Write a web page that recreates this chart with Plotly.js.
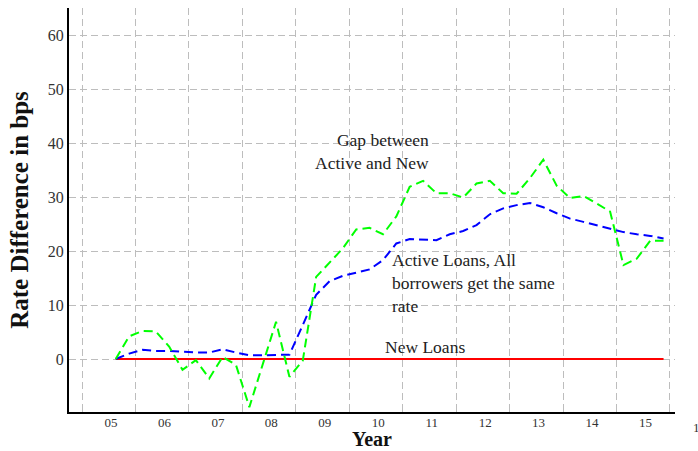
<!DOCTYPE html>
<html>
<head>
<meta charset="utf-8">
<script src="https://cdn.plot.ly/plotly-3.0.1.min.js"></script>
<style>html,body{margin:0;padding:0;background:#fff;}#chart{width:698px;height:451px;}</style>
</head>
<body>
<div id="chart"></div>
<script>
// Quarterly observations, 2005Q1 .. 2015Q2
const startYear = 2005;
const nQuarters = 42;
const quarters = Array.from({length: nQuarters}, (_, i) => startYear + i * 0.25);

const gapActiveNew = [
  0.0, 4.2, 5.2, 5.1, 2.3, -2.0, -0.2, -3.6, 0.4, -1.1,
  -8.9, -1.0, 6.9, -3.3, -0.3, 15.2, 17.9, 20.5, 24.0, 24.3,
  23.1, 26.4, 31.9, 33.0, 30.7, 30.7, 29.9, 32.5, 33.0, 30.7,
  30.6, 33.5, 36.9, 32.1, 29.8, 30.2, 28.8, 27.3, 17.4, 18.6,
  21.9, 21.9
];
const activeLoans = [
  0.0, 1.0, 1.7, 1.5, 1.5, 1.3, 1.2, 1.2, 1.8, 1.2,
  0.7, 0.7, 0.75, 0.8, 6.3, 11.9, 14.4, 15.4, 16.0, 16.6,
  18.3, 21.4, 22.2, 22.1, 22.0, 23.1, 23.7, 24.8, 26.8, 27.9,
  28.5, 28.9, 28.1, 27.0, 26.0, 25.4, 24.8, 24.1, 23.5, 23.1,
  22.8, 22.3
];
const newLoans = Array.from({length: nQuarters}, () => 0);

const yearLabels = ['05','06','07','08','09','10','11','12','13','14','15'];
const clippedLabel = '16';
const yTicks = [0, 10, 20, 30, 40, 50, 60];
const xTitle = 'Year';
const yTitle = 'Rate Difference in bps';

const serif = 'Liberation Serif, Times New Roman, serif';
const labelPos = yearLabels.map((_, k) => 2004.912 + k);
const gridPos = Array.from({length: 12}, (_, k) => 2004.37 + k);

const traces = [
  {x: quarters, y: newLoans, mode: 'lines', line: {color: '#ff0000', width: 2}, hoverinfo: 'skip'},
  {x: quarters, y: activeLoans, mode: 'lines', line: {color: '#0000ff', width: 2, dash: '9px,5px'}, hoverinfo: 'skip'},
  {x: quarters, y: gapActiveNew, mode: 'lines', line: {color: '#00ff00', width: 2, dash: '9px,5px'}, hoverinfo: 'skip'}
];

const annFont = {family: serif, size: 17.5, color: '#222'};

const layout = {
  width: 698, height: 451,
  margin: {l: 69, r: 23, t: 8, b: 39},
  paper_bgcolor: '#fff', plot_bgcolor: '#fff',
  showlegend: false,
  font: {family: serif, color: '#222'},
  xaxis: {
    range: [2004.126, 2015.464],
    tickmode: 'array', tickvals: labelPos, ticktext: yearLabels,
    showgrid: false, zeroline: false, ticks: '',
    ticklabelstandoff: -3,
    tickfont: {family: serif, size: 13, color: '#333'},
    showline: true, linecolor: '#000', linewidth: 2,
    minor: {tickmode: 'array', tickvals: gridPos, showgrid: true, gridcolor: '#bdbdbd', griddash: '7px,4px', gridwidth: 1, ticks: 'inside', ticklen: 4, tickcolor: '#bdbdbd'}
  },
  yaxis: {
    range: [-9.81, 65.0],
    tickmode: 'array', tickvals: yTicks, ticktext: yTicks.map(String),
    showgrid: true, gridcolor: '#bdbdbd', griddash: '7px,4px', gridwidth: 1,
    zeroline: false, ticks: '',
    tickfont: {family: serif, size: 16, color: '#333'},
    showline: true, linecolor: '#000', linewidth: 2,
    title: {text: '<b>' + yTitle + '</b>', font: {family: serif, size: 25, color: '#111'}, standoff: 12}
  },
  annotations: [
    {xref: 'paper', yref: 'paper', x: (372 - 69) / 606, y: (412 - 439) / 404, xanchor: 'center', yanchor: 'middle',
     text: '<b>' + xTitle + '</b>', showarrow: false, borderpad: 0, font: {family: serif, size: 20, color: '#111'}},
    {xref: 'paper', yref: 'y', x: (431 - 69) / 606, y: 38.5, xanchor: 'right', yanchor: 'middle', align: 'right',
     text: 'Gap between<br>Active and New', showarrow: false, font: annFont},
    {xref: 'paper', yref: 'y', x: (390 - 69) / 606, y: 14.0, xanchor: 'left', yanchor: 'middle', align: 'left',
     text: 'Active Loans, All<br>borrowers get the same<br>rate', showarrow: false, font: annFont},
    {xref: 'paper', yref: 'y', x: (383 - 69) / 606, y: 2.2, xanchor: 'left', yanchor: 'middle',
     text: 'New Loans', showarrow: false, font: annFont},
    {xref: 'paper', yref: 'paper', x: (700 - 69) / 606, y: -0.015, xanchor: 'center', yanchor: 'top',
     text: clippedLabel, showarrow: false, font: {family: serif, size: 13, color: '#333'}}
  ]
};

Plotly.newPlot('chart', traces, layout, {staticPlot: true, displayModeBar: false});
</script>
</body>
</html>
